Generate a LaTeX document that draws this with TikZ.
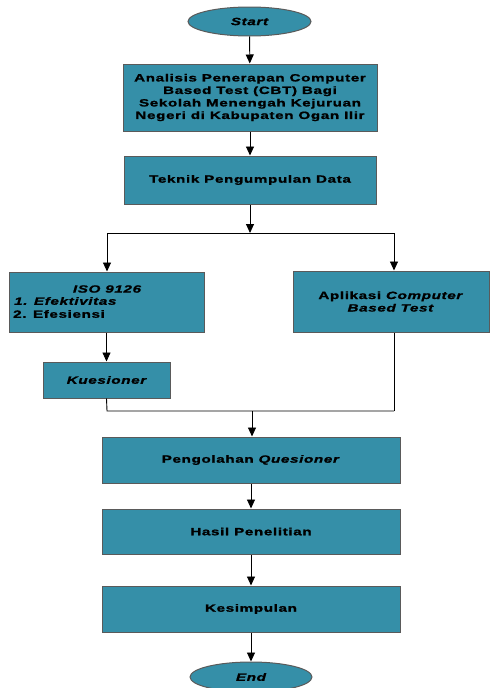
\documentclass[tikz,border=0pt]{standalone}
\usepackage{fontspec}
\setmainfont{Liberation Sans}[FakeStretch=1.45,LetterSpace=6,
  BoldFont={Liberation Sans Bold},BoldItalicFont={Liberation Sans Bold Italic},
  BoldFeatures={FakeBold=1.3},BoldItalicFeatures={FakeBold=1.3}]
\usetikzlibrary{arrows.meta,shapes.geometric}
\definecolor{boxfill}{RGB}{53,143,168}
\definecolor{boxline}{RGB}{90,90,90}
\begin{document}
\begin{tikzpicture}[x=1pt,y=-1pt,
  box/.style={rectangle,draw=boxline,line width=1pt,fill=boxfill,inner sep=0pt,align=center,
    font=\fontsize{10.5}{12.5}\selectfont\bfseries},
  term/.style={ellipse,draw=boxline,line width=1pt,fill=boxfill,inner sep=0pt,
    font=\fontsize{10.5}{12.5}\selectfont\bfseries\itshape},
  txt/.style={inner sep=0pt,font=\fontsize{10.5}{12.5}\selectfont\bfseries},
  conn/.style={draw=black,line width=0.9pt},
  arr/.style={conn,-{Triangle[length=9pt,width=8pt]}}]
\path[use as bounding box] (0,0) rectangle (490,688);
\clip (0,0) rectangle (490,688);

\node[term,minimum width=123pt,minimum height=29pt] (start) at (249.5,21.5) {Start};
\node[box,minimum width=254pt,minimum height=67pt] (anal) at (250,97.5)
  {Analisis Penerapan Computer\\Based Test (CBT) Bagi\\Sekolah Menengah Kejuruan\\Negeri di Kabupaten Ogan Ilir};
\node[box,minimum width=252pt,minimum height=48pt] (tek) at (250,180) {Teknik Pengumpulan Data};
\node[box,minimum width=195pt,minimum height=60pt] (iso) at (106.5,302) {};
\node[txt] (isot) at (107,289) {\itshape ISO 9126};
\node[txt,anchor=west] (iso1) at (14,301) {\itshape 1. Efektivitas};
\node[txt,anchor=west] (iso2) at (13,314) {2. Efesiensi};
\node[box,minimum width=196pt,minimum height=61pt] (apl) at (391,301.5)
  {Aplikasi \textit{Computer}\\\textit{Based Test}};
\node[box,minimum width=127pt,minimum height=36pt] (kues) at (106.5,380) {\itshape Kuesioner};
\node[box,minimum width=298pt,minimum height=46pt] (peng) at (251,460) {Pengolahan \textit{Quesioner}};
\node[box,minimum width=298pt,minimum height=45pt] (hasil) at (251,531.5) {Hasil Penelitian};
\node[box,minimum width=298pt,minimum height=46pt] (kes) at (251,609) {Kesimpulan};
\node[term,minimum width=122pt,minimum height=30pt] (end) at (251,677) {End};

\coordinate (j1) at (250,233);
\coordinate (jl) at (107,233);
\coordinate (jr) at (394,233);
\coordinate (ml) at (107,411);
\coordinate (mr) at (394,411);
\coordinate (mm) at (252,411);

\draw[arr] (start) -- (anal);
\draw[arr] (anal) -- (tek);
\draw[arr] (tek) -- (j1);
\draw[conn] (jl) -- (jr);
\draw[arr] (jl) -- (jl |- iso.north);
\draw[arr] (jr) -- (jr |- apl.north);
\draw[arr] (iso.south -| kues.north) -- (kues.north);
\draw[conn] (kues.south) -- (ml) -- (mr);
\draw[conn] (apl.south -| mr) -- (mr);
\draw[arr] (mm) -- (mm |- peng.north);
\draw[arr] (peng) -- (hasil);
\draw[arr] (hasil) -- (kes);
\draw[arr] (kes) -- (end);
\end{tikzpicture}
\end{document}
